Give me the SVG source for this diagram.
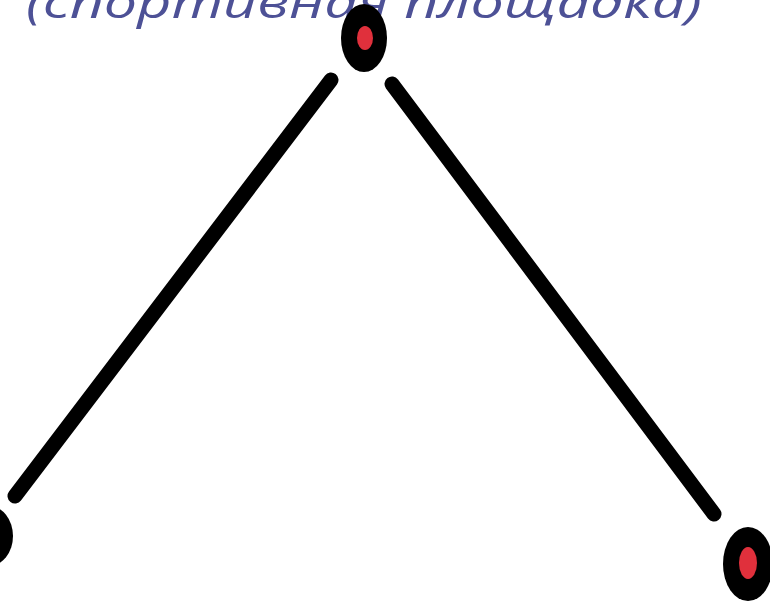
<svg xmlns="http://www.w3.org/2000/svg" width="770" height="601" viewBox="0 0 770 601">
<style>
.title{font-family:"Open Sans","Noto Sans","DejaVu Sans",sans-serif;font-style:italic;font-size:44px;fill:#4d5196}
.edge{stroke:#000;stroke-width:15;stroke-linecap:round;fill:none}
.outer{fill:#000}
.inner{fill:#e0303c}
</style>
<rect width="770" height="601" fill="#fff"/>
<text class="title" x="26" y="18" textLength="676" lengthAdjust="spacingAndGlyphs">(спортивная площадка)</text>
<g id="connectors">
<line class="edge" x1="331" y1="80" x2="15" y2="496"/>
<line class="edge" x1="392" y1="84" x2="714" y2="514"/>
</g>
<g id="node-top">
<ellipse class="outer" cx="364" cy="38" rx="23" ry="34"/>
<ellipse class="inner" cx="365" cy="38" rx="8" ry="12"/>
</g>
<g id="node-left">
<ellipse class="outer" cx="-11" cy="536" rx="24" ry="30"/>
</g>
<g id="node-right">
<ellipse class="outer" cx="748" cy="564" rx="25" ry="37"/>
<ellipse class="inner" cx="748" cy="563" rx="9" ry="16"/>
</g>
</svg>
